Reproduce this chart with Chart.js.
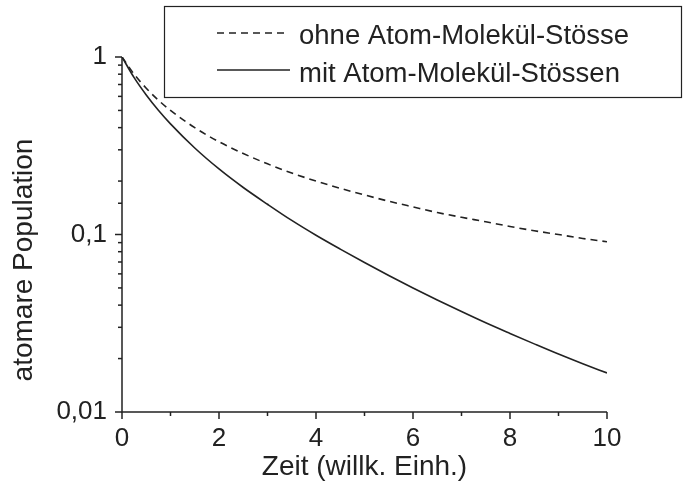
<!DOCTYPE html>
<html>
<head>
<meta charset="utf-8">
<script src="https://cdn.jsdelivr.net/npm/chart.js@4/dist/chart.umd.min.js"></script>
<style>
  body { margin: 0; background: #fff; }
  canvas { display: block; }
</style>
</head>
<body>
<canvas id="popChart" width="684" height="483"></canvas>
<script>
// Zeit in willk. Einheiten
const timeValues = [0, 0.25, 0.5, 0.75, 1, 1.5, 2, 2.5, 3, 3.5, 4, 4.5, 5, 5.5, 6, 6.5, 7, 7.5, 8, 8.5, 9, 9.5, 10];
// atomare Population ohne Atom-Molekül-Stösse
const ohneStoesse = [1, 0.8, 0.667, 0.571, 0.5, 0.4, 0.333, 0.286, 0.25, 0.222, 0.2, 0.182, 0.167, 0.154, 0.143, 0.133, 0.125, 0.118, 0.111, 0.105, 0.1, 0.095, 0.091];
// atomare Population mit Atom-Molekül-Stössen
const mitStoessen = [1, 0.765, 0.611, 0.501, 0.42, 0.307, 0.234, 0.184, 0.148, 0.12, 0.099, 0.0827, 0.0695, 0.0588, 0.05, 0.0428, 0.0368, 0.0318, 0.0277, 0.0242, 0.0212, 0.0187, 0.0166];

const seriesNames = ["ohne Atom-Molekül-Stösse", "mit Atom-Molekül-Stössen"];
const yTickValues = [0.01, 0.1, 1];
const yTickLabels = ["0,01", "0,1", "1"];
const xLabelValues = [0, 2, 4, 6, 8, 10];
const xTitle = "Zeit (willk. Einh.)";
const yTitle = "atomare Population";

const ink = "#222";
const fontFamily = "'Liberation Sans', Arial, sans-serif";

function toPoints(ys) {
    return timeValues.map((t, i) => ({ x: t, y: ys[i] }));
}

function yLabelFor(value) {
    const i = yTickValues.findIndex(v => Math.abs(v - value) / v < 1e-6);
    return i >= 0 ? yTickLabels[i] : "";
}

// axes, tick marks, titles and the framed legend
const decorations = {
    id: "decorations",
    afterDraw(chart) {
        const ctx = chart.ctx;
        const xs = chart.scales.x;
        const ys = chart.scales.y;
        const area = chart.chartArea;
        ctx.save();
        ctx.strokeStyle = ink;
        ctx.lineWidth = 1.5;

        // axis lines
        ctx.beginPath();
        ctx.moveTo(area.left, area.top);
        ctx.lineTo(area.left, area.bottom);
        ctx.lineTo(area.right, area.bottom);
        ctx.stroke();

        // y ticks (outward)
        ys.ticks.forEach(t => {
            const py = ys.getPixelForValue(t.value);
            const len = yLabelFor(t.value) ? 7 : 4;
            ctx.beginPath();
            ctx.moveTo(area.left - len, py);
            ctx.lineTo(area.left, py);
            ctx.stroke();
        });

        // x ticks (outward)
        xs.ticks.forEach(t => {
            const px = xs.getPixelForValue(t.value);
            const len = xLabelValues.includes(t.value) ? 7 : 4;
            ctx.beginPath();
            ctx.moveTo(px, area.bottom);
            ctx.lineTo(px, area.bottom + len);
            ctx.stroke();
        });

        // axis titles
        ctx.fillStyle = ink;
        ctx.font = "28px " + fontFamily;
        ctx.textAlign = "center";
        ctx.textBaseline = "alphabetic";
        ctx.fillText(xTitle, (area.left + area.right) / 2, 475);

        ctx.save();
        ctx.translate(32, 260);
        ctx.rotate(-Math.PI / 2);
        ctx.fillText(yTitle, 0, 0);
        ctx.restore();

        // legend box
        ctx.lineWidth = 1.2;
        ctx.strokeRect(164.5, 6.5, 517, 91);

        const rows = [
            { lineY: 33, textY: 44, lineEnd: 285 },
            { lineY: 70, textY: 82, lineEnd: 290 }
        ];
        chart.data.datasets.forEach((ds, i) => {
            const r = rows[i];
            ctx.save();
            ctx.strokeStyle = ds.borderColor;
            ctx.lineWidth = ds.borderWidth;
            ctx.setLineDash(ds.borderDash || []);
            ctx.beginPath();
            ctx.moveTo(217, r.lineY);
            ctx.lineTo(r.lineEnd, r.lineY);
            ctx.stroke();
            ctx.restore();

            ctx.font = "27.5px " + fontFamily;
            ctx.textAlign = "left";
            ctx.fillText(ds.label, 299, r.textY);
        });

        ctx.restore();
    }
};

const ctx = document.getElementById("popChart").getContext("2d");
new Chart(ctx, {
    type: "line",
    data: {
        datasets: [
            {
                label: seriesNames[0],
                data: toPoints(ohneStoesse),
                borderColor: ink,
                borderWidth: 1.6,
                borderDash: [7, 5],
                pointRadius: 0,
                fill: false,
                cubicInterpolationMode: "monotone"
            },
            {
                label: seriesNames[1],
                data: toPoints(mitStoessen),
                borderColor: ink,
                borderWidth: 1.6,
                pointRadius: 0,
                fill: false,
                cubicInterpolationMode: "monotone"
            }
        ]
    },
    options: {
        responsive: false,
        animation: false,
        events: [],
        layout: {
            padding: { top: 57, right: 77, left: 0, bottom: 0 }
        },
        plugins: {
            legend: { display: false },
            tooltip: { enabled: false }
        },
        scales: {
            x: {
                type: "linear",
                min: 0,
                max: 10,
                grid: { display: false, drawTicks: false },
                border: { display: false },
                ticks: {
                    stepSize: 1,
                    autoSkip: false,
                    maxRotation: 0,
                    padding: 11,
                    color: ink,
                    font: { family: fontFamily, size: 26 },
                    callback: value => xLabelValues.includes(value) ? String(value) : ""
                },
                afterFit: scale => { scale.height = 71; }
            },
            y: {
                type: "logarithmic",
                min: 0.01,
                max: 1,
                grid: { display: false, drawTicks: false },
                border: { display: false },
                ticks: {
                    autoSkip: false,
                    padding: 15,
                    color: ink,
                    font: { family: fontFamily, size: 26 },
                    callback: value => yLabelFor(value)
                },
                afterFit: scale => { scale.width = 122; }
            }
        }
    },
    plugins: [decorations]
});
</script>
</body>
</html>
